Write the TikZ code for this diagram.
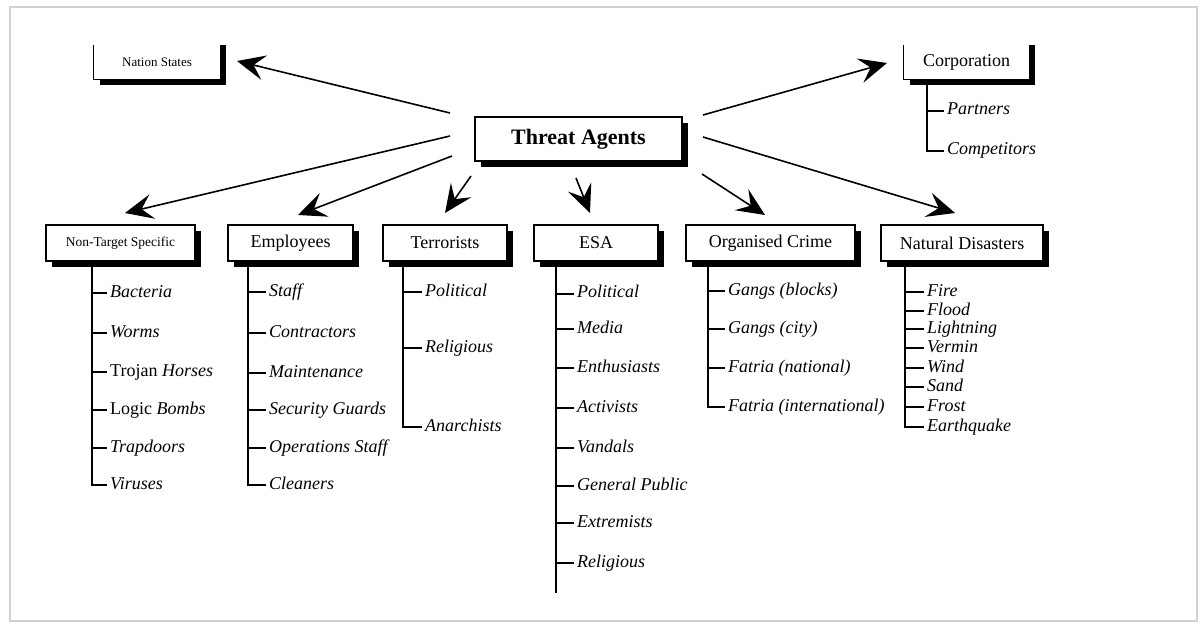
\documentclass[tikz,border=0pt]{standalone}
\usepackage{fontspec}
\setmainfont{Liberation Serif}
\usetikzlibrary{arrows.meta,shadows,calc}
\begin{document}
\begin{tikzpicture}[x=1pt,y=-1pt,
  shad/.style={drop shadow={shadow xshift=6pt,shadow yshift=-6pt,fill=black,opacity=1}},
  box/.style={draw, line width=1.2pt, fill=white, inner sep=0pt, shad, minimum height=36pt, font=\fontsize{18}{20}\selectfont},
  smallbox/.style={box, font=\fontsize{13.5}{15}\selectfont},
  item/.style={anchor=west, inner sep=3pt, text height=12pt, text depth=4pt, font=\fontsize{18}{20}\selectfont\itshape},
  tree/.style={line width=2.6pt},
  arr/.style={line width=1.6pt, -{Stealth[length=28pt,width=25pt,inset=11pt]}}]
\useasboundingbox (0,0) rectangle (1204,628);
\fill[white] (0,0) rectangle (1204,628);
\draw[gray!35, line width=2pt] (10,7) rectangle (1197,621);

% top boxes (top edge hidden)
\fill (100,45) rectangle (226,85);
\node[fill=white, inner sep=0pt, minimum width=126pt, minimum height=34pt, font=\fontsize{13}{15}\selectfont] (ns) at (157,62) {Nation States};
\draw[line width=1.2pt] (ns.north west) |- (ns.south east) -- (ns.north east);
\fill (910,45) rectangle (1035,85);
\node[fill=white, inner sep=0pt, minimum width=125pt, minimum height=34pt, font=\fontsize{18}{20}\selectfont] (corp) at (966.5,62) {Corporation};
\draw[line width=1.2pt] (corp.north west) |- (corp.south east) -- (corp.north east);

% central
\node[box, minimum width=207pt, minimum height=44pt, font=\fontsize{22}{24}\selectfont\bfseries] (ta) at (578.5,139) {Threat Agents};

% bottom boxes
\node[smallbox, minimum width=149pt] (nts) at (120.5,243) {Non-Target Specific};
\node[box, minimum width=125pt] (emp) at (290.5,243) {Employees};
\node[box, minimum width=124pt] (ter) at (445,243) {Terrorists};
\node[box, minimum width=124pt] (esa) at (596,243) {ESA};
\node[box, minimum width=169pt] (oc) at (770.5,243) {Organised Crime};
\node[box, minimum width=162pt] (nd) at (962,243) {Natural Disasters};

% arrows
\coordinate (s1) at (450,113); \coordinate (t1) at (237,61);
\coordinate (s2) at (703,115); \coordinate (t2) at (887,63);
\coordinate (s3) at (450,136); \coordinate (t3) at (125,213);
\coordinate (s4) at (452,156); \coordinate (t4) at (298,215);
\coordinate (s5) at (471,176); \coordinate (t5) at (445,213);
\coordinate (s6) at (576,178); \coordinate (t6) at (590,213);
\coordinate (s7) at (702,174); \coordinate (t7) at (765,215);
\coordinate (s8) at (703,137); \coordinate (t8) at (955,213);
\foreach \i in {1,...,8} {\draw[arr] (s\i) -- (t\i);}

% Corporation tree
\coordinate (corpT) at (927,79);
\foreach \y/\t in {111/Partners,151/Competitors} {
  \node[item] (corp\y) at (944,\y) {\t};
  \draw[tree] (corpT) |- (corp\y.west);
}
% Non-target tree
\coordinate (ntsT) at (92,261);
\foreach \y/\t in {293/Bacteria,333/Worms,372/{{\upshape Trojan} Horses},410/{{\upshape Logic} Bombs},448/Trapdoors,485/Viruses} {
  \node[item] (nts\y) at (107,\y) {\t};
  \draw[tree] (ntsT) |- (nts\y.west);
}
% Employees tree
\coordinate (empT) at (248,261);
\foreach \y/\t in {292/Staff,333/Contractors,373/Maintenance,410/Security Guards,448/Operations Staff,485/Cleaners} {
  \node[item] (emp\y) at (266,\y) {\t};
  \draw[tree] (empT) |- (emp\y.west);
}
% Terrorists tree
\coordinate (terT) at (403,261);
\foreach \y/\t in {292/Political,348/Religious,427/Anarchists} {
  \node[item] (ter\y) at (422,\y) {\t};
  \draw[tree] (terT) |- (ter\y.west);
}
% ESA tree
\coordinate (esaT) at (556,261);
\coordinate (esaEnd) at (556,593);
\draw[tree] (esaT) -- (esaEnd);
\foreach \y/\t in {294/Political,329/Media,368/Enthusiasts,408/Activists,448/Vandals,486/General Public,523/Extremists,563/Religious} {
  \node[item] (esa\y) at (574,\y) {\t};
  \draw[tree] (esaT) |- (esa\y.west);
}
% Organised crime tree
\coordinate (ocT) at (708,261);
\foreach \y/\t in {291/Gangs (blocks),329/Gangs (city),368/Fatria (national),407/Fatria (international)} {
  \node[item] (oc\y) at (725,\y) {\t};
  \draw[tree] (ocT) |- (oc\y.west);
}
% Natural disasters tree
\coordinate (ndT) at (905,261);
\foreach \y/\t in {292/Fire,311/Flood,329/Lightning,348/Vermin,368/Wind,387/Sand,407/Frost,427/Earthquake} {
  \node[item] (nd\y) at (924,\y) {\t};
  \draw[tree] (ndT) |- (nd\y.west);
}
\end{tikzpicture}
\end{document}
